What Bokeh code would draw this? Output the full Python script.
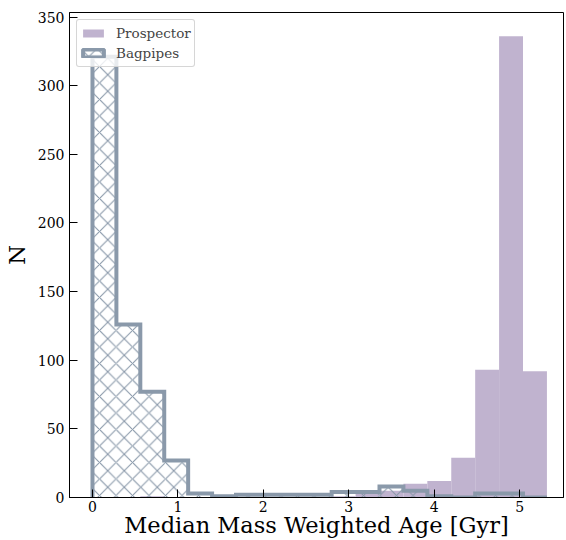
import numpy as np
from bokeh.plotting import figure
from bokeh.models import Range1d, FixedTicker, Legend, LegendItem, ColumnDataSource
from bokeh.embed import file_html
from bokeh.resources import INLINE

# ---- data ----
bin_edges = [round(0.28 * i, 2) for i in range(20)]   # 0 .. 5.32 Gyr
prospector_counts = [0, 0, 1, 0, 0, 0, 0, 0, 0, 0, 1, 3, 5, 10, 12, 29, 93, 336, 92]
bagpipes_counts = [321, 126, 77, 27, 3, 1, 2, 2, 2, 2, 4, 4, 8, 5, 1, 0, 3, 3, 0]
x_ticks = [0, 1, 2, 3, 4, 5]
y_ticks = [0, 50, 100, 150, 200, 250, 300, 350]

prosp_color = "#c0b3cf"
bag_color = "#8a99aa"
FONT = "DejaVu Serif"

p = figure(width=566, height=540, output_backend="svg", toolbar_location=None,
           x_range=Range1d(-0.269, 5.514), y_range=Range1d(0, 353.3),
           min_border_left=60, min_border_top=12, min_border_right=3, min_border_bottom=40)
p.background_fill_color = "white"
p.border_fill_color = "white"
p.outline_line_color = "black"
p.outline_line_width = 1
p.grid.visible = False

left = bin_edges[:-1]
right = bin_edges[1:]

# Prospector (filled)
src_p = ColumnDataSource(dict(left=left, right=right, top=prospector_counts,
                              bottom=[0] * len(prospector_counts)))
r_p = p.quad(left="left", right="right", top="top", bottom="bottom", source=src_p,
             fill_color=prosp_color, fill_alpha=1.0, line_color=None)

# Bagpipes (hatched step)
src_b = ColumnDataSource(dict(left=left, right=right, top=bagpipes_counts,
                              bottom=[0] * len(bagpipes_counts)))
hatch_kw = dict(hatch_pattern="x", hatch_color=bag_color, hatch_scale=16.5,
                hatch_weight=1.1, hatch_alpha=1.0)
p.quad(left="left", right="right", top="top", bottom="bottom", source=src_b,
       fill_alpha=0, line_color=None, **hatch_kw)
step_x = [bin_edges[0]] + bin_edges
step_y = [0] + bagpipes_counts + [0]
p.step(x=step_x, y=step_y, mode="after", line_color=bag_color, line_width=4,
       line_join="miter")

# legend-only renderer for Bagpipes (hidden in the plot, used for the legend swatch)
r_leg = p.quad(left="left", right="right", top="top", bottom="bottom", source=src_b,
               fill_alpha=0, line_color=bag_color, line_width=4, **hatch_kw)
r_leg.visible = False

legend = Legend(items=[LegendItem(label="Prospector", renderers=[r_p]),
                       LegendItem(label="Bagpipes", renderers=[r_leg])],
                location="top_left")
legend.label_text_font = FONT
legend.label_text_font_size = "13.5px"
legend.glyph_width = 26
legend.glyph_height = 10
legend.label_height = 20
legend.spacing = 0
legend.padding = 3
legend.margin = 7
legend.label_standoff = 10
legend.border_line_color = "#cccccc"
legend.border_line_alpha = 0.8
legend.background_fill_alpha = 0.8
legend.border_radius = 3
p.add_layout(legend)

# axes
for ax in (p.xaxis[0], p.yaxis[0]):
    ax.major_tick_in = 8
    ax.major_tick_out = 0
    ax.minor_tick_in = 0
    ax.minor_tick_out = 0
    ax.axis_line_color = "black"
    ax.major_tick_line_color = "black"
    ax.major_label_text_font = FONT
    ax.major_label_text_font_size = "14px"
    ax.major_label_text_color = "black"
    ax.axis_label_text_font = FONT
    ax.axis_label_text_font_size = "22.5px"
    ax.axis_label_text_font_style = "normal"
    ax.axis_label_text_color = "black"

p.xaxis.ticker = FixedTicker(ticks=x_ticks)
p.yaxis.ticker = FixedTicker(ticks=y_ticks)
p.xaxis.axis_label = "Median Mass Weighted Age [Gyr]"
p.yaxis.axis_label = "N"
p.xaxis.major_label_standoff = 3
p.xaxis.axis_label_standoff = -3
p.yaxis.major_label_standoff = 5
p.yaxis.axis_label_standoff = 5

with open("out.html", "w") as f:
    f.write(file_html(p, INLINE))
